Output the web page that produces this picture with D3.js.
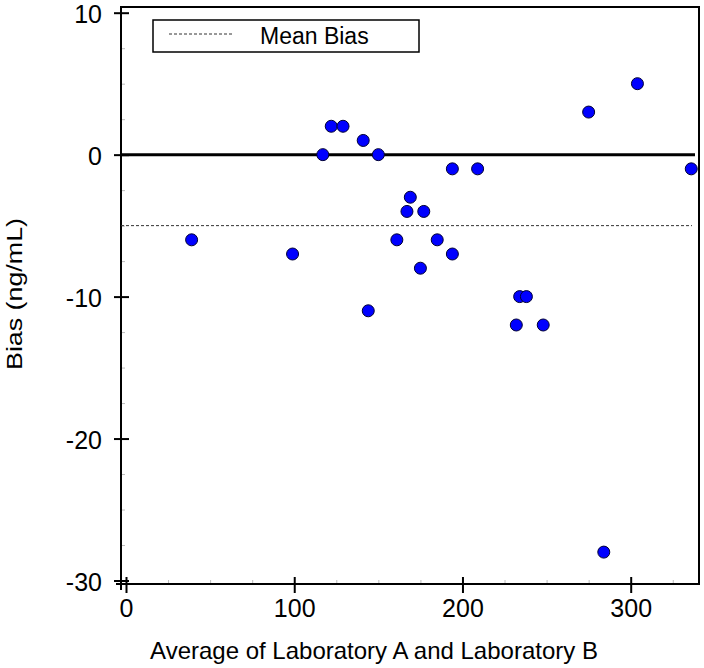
<!DOCTYPE html>
<html>
<head>
<meta charset="utf-8">
<script src="https://cdn.jsdelivr.net/npm/d3@7"></script>
<style>
  body { margin: 0; background: #fff; }
  text { font-family: "Liberation Sans", Arial, sans-serif; fill: #000; }
</style>
</head>
<body>
<script>
// average of the two labs vs bias
const avgAB = [39, 99, 117, 122, 129, 141, 144, 150, 161, 167, 169, 175, 177, 185, 194, 194, 209, 232, 234, 238, 248, 275, 304, 284, 336];
const bias  = [-6, -7, 0, 2, 2, 1, -11, 0, -6, -4, -3, -8, -4, -6, -7, -1, -1, -12, -10, -10, -12, 3, 5, -28, -1];
const meanBias = -5;
const xTicks = [0, 100, 200, 300];
const yTicks = [-30, -20, -10, 0, 10];
const xMinor = [25, 50, 75, 125, 150, 175, 225, 250, 275, 325];
const yMinor = [-27.5, -25, -22.5, -17.5, -15, -12.5, -7.5, -5, -2.5, 2.5, 5, 7.5];

const W = 704, H = 668;
const frame = {left: 121, right: 699, top: 7, bottom: 584};

const svg = d3.select("body").append("svg").attr("width", W).attr("height", H);

const x = d3.scaleLinear().domain([0, 300]).range([126, 630.7]);
const y = d3.scaleLinear().domain([-30, 10]).range([580.5, 12.7]);

// minor ticks (faint)
svg.append("g").attr("transform", `translate(0,${frame.bottom})`)
  .call(d3.axisBottom(x).tickValues(xMinor).tickSize(-4).tickFormat(""))
  .call(g => g.select(".domain").remove())
  .call(g => g.selectAll(".tick line").attr("stroke", "#bbb"));
svg.append("g").attr("transform", `translate(${frame.left},0)`)
  .call(d3.axisLeft(y).tickValues(yMinor).tickSize(-4).tickFormat(""))
  .call(g => g.select(".domain").remove())
  .call(g => g.selectAll(".tick line").attr("stroke", "#bbb"));

// frame
svg.append("line").attr("x1", frame.left).attr("x2", frame.right).attr("y1", frame.top).attr("y2", frame.top)
  .attr("stroke", "#000").attr("stroke-width", 2);
svg.append("line").attr("x1", frame.right).attr("x2", frame.right).attr("y1", frame.top - 1).attr("y2", frame.bottom + 1)
  .attr("stroke", "#000").attr("stroke-width", 2);
svg.append("line").attr("x1", frame.left).attr("x2", frame.left).attr("y1", frame.top - 1).attr("y2", 590)
  .attr("stroke", "#000").attr("stroke-width", 2);
svg.append("line").attr("x1", 116).attr("x2", frame.right + 1).attr("y1", frame.bottom).attr("y2", frame.bottom)
  .attr("stroke", "#000").attr("stroke-width", 2);

// major axes
const xAxis = svg.append("g").attr("transform", `translate(0,${frame.bottom})`)
  .call(d3.axisBottom(x).tickValues(xTicks).tickSize(9).tickPadding(6).tickFormat(d => String(d)));
xAxis.select(".domain").remove();
xAxis.selectAll(".tick line").attr("y1", -7).attr("stroke-width", 2);
xAxis.selectAll(".tick text").attr("font-size", 25).attr("font-family", "Liberation Sans, Arial, sans-serif");

const yAxis = svg.append("g").attr("transform", `translate(${frame.left},0)`)
  .call(d3.axisLeft(y).tickValues(yTicks).tickSize(7).tickPadding(12).tickFormat(d => String(d)));
yAxis.select(".domain").remove();
yAxis.selectAll(".tick line").attr("x1", 8).attr("stroke-width", 2);
yAxis.selectAll(".tick text").attr("font-size", 25).attr("dy", "0.4em")
  .attr("font-family", "Liberation Sans, Arial, sans-serif");

// zero line and mean bias
svg.append("line").attr("x1", frame.left).attr("x2", 695).attr("y1", y(0)).attr("y2", y(0))
  .attr("stroke", "#000").attr("stroke-width", 3);
svg.append("line").attr("x1", frame.left).attr("x2", 692).attr("y1", y(meanBias)).attr("y2", y(meanBias))
  .attr("stroke", "#333").attr("stroke-width", 1).attr("stroke-dasharray", "3,2");

// points
svg.append("g").selectAll("circle").data(avgAB).join("circle")
  .attr("cx", d => x(d))
  .attr("cy", (d, i) => y(bias[i]))
  .attr("r", 6)
  .attr("fill", "#0000ff")
  .attr("stroke", "#000033")
  .attr("stroke-width", 1);

// legend
const leg = svg.append("g");
leg.append("rect").attr("x", 153).attr("y", 20).attr("width", 266).attr("height", 32)
  .attr("fill", "#fff").attr("stroke", "#000").attr("stroke-width", 1.5);
leg.append("line").attr("x1", 169).attr("x2", 233).attr("y1", 34).attr("y2", 34)
  .attr("stroke", "#333").attr("stroke-width", 1).attr("stroke-dasharray", "3,2");
leg.append("text").attr("x", 260).attr("y", 44).attr("font-size", 23).text("Mean Bias");

// titles
svg.append("text").attr("x", 374).attr("y", 659).attr("text-anchor", "middle")
  .attr("font-size", 24).text("Average of Laboratory A and Laboratory B");
svg.append("text").attr("transform", "translate(22,294) rotate(-90)").attr("text-anchor", "middle")
  .attr("font-size", 22).attr("textLength", 152).attr("lengthAdjust", "spacingAndGlyphs")
  .text("Bias (ng/mL)");
</script>
</body>
</html>
